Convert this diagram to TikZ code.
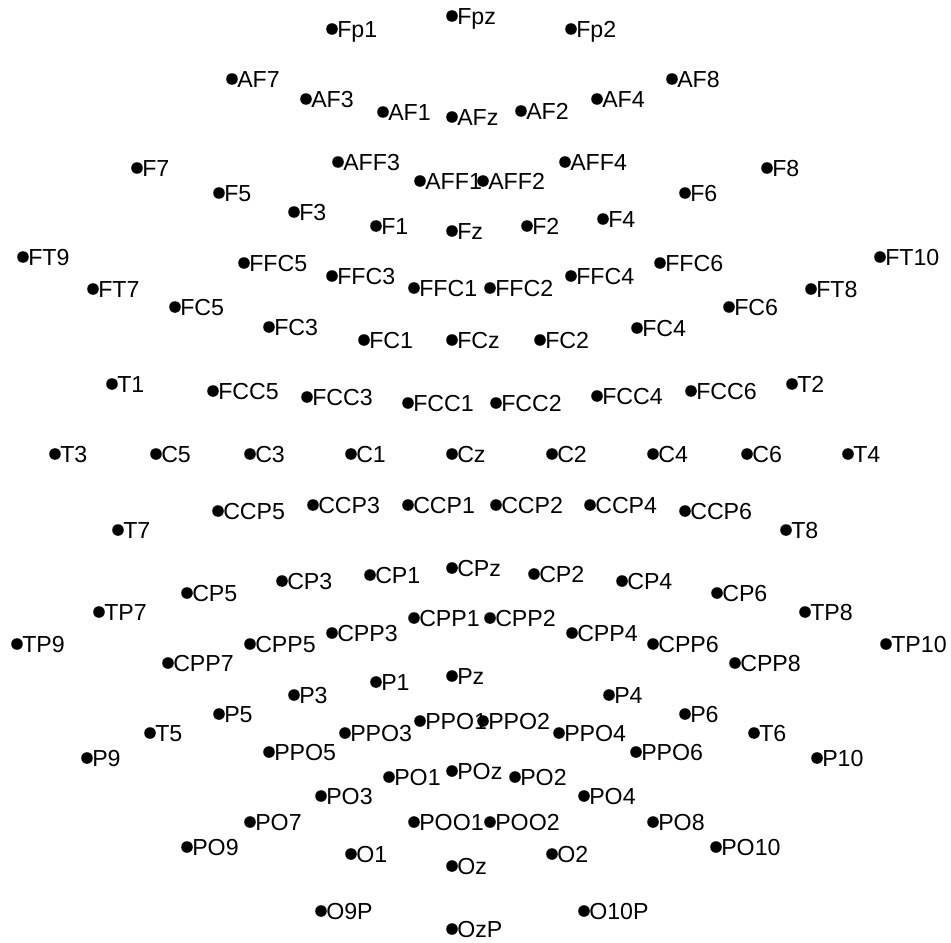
\documentclass[tikz,border=0pt]{standalone}
\usepackage{fontspec}
\setmainfont{Liberation Sans}

\tikzset{
  electrode/.style={circle, fill=black, inner sep=0pt, minimum size=0.232cm},
  elabel/.style={font=\fontsize{13.2}{15}\selectfont, inner sep=0pt, text height=9.45pt, text depth=0pt}
}

\begin{document}
\begin{tikzpicture}[x=0.02cm, y=-0.02cm, label distance=-0.025cm]
  \useasboundingbox (0,0) rectangle (951,943);
  % electrode positions, name/x/y
  \foreach \name/\ex/\ey in {
      Fp1/332/29, Fpz/452/16, Fp2/571/29,
      AF7/232/79, AF3/306/99, AF1/383/112, AFz/452/117, AF2/521/111, AF4/597/99, AF8/672/79,
      F7/137/168, AFF3/338/162, AFF1/420/181, AFF2/483/181, AFF4/565/162, F8/767/168,
      F5/219/193, F6/685/193, F3/294/212, F4/603/219, F1/376/226, Fz/452/231, F2/527/226,
      FT9/23/257, FT10/880/257, FFC5/244/263, FFC6/660/263, FFC3/332/276, FFC4/571/276,
      FFC1/414/288, FFC2/490/288, FT7/93/289, FT8/811/289, FC5/175/307, FC6/729/307,
      FC3/269/327, FC4/637/328, FC1/364/340, FCz/452/340, FC2/540/340,
      T1/112/384, T2/792/384, FCC5/213/391, FCC6/691/391, FCC3/307/397, FCC4/597/396,
      FCC1/408/403, FCC2/496/403,
      T3/55/454, C5/156/454, C3/250/454, C1/351/454, Cz/452/454, C2/552/454, C4/653/454, C6/747/454, T4/848/454,
      CCP5/218/511, CCP3/313/505, CCP1/408/505, CCP2/496/505, CCP4/590/505, CCP6/685/511,
      T7/118/530, T8/786/530,
      CP5/187/593, CP3/282/581, CP1/370/575, CPz/452/568, CP2/534/574, CP4/622/581, CP6/717/593,
      TP7/99/612, TP8/805/612, TP9/17/644, TP10/886/644,
      CPP5/250/644, CPP3/332/633, CPP1/414/618, CPP2/490/618, CPP4/572/633, CPP6/653/644,
      CPP7/168/663, CPP8/735/663,
      P3/294/695, P1/376/682, Pz/452/676, P4/609/695, P5/219/714, P6/685/714,
      T5/150/733, T6/754/733, PPO3/345/733, PPO1/420/721, PPO2/483/721, PPO4/559/733,
      PPO5/269/752, PPO6/636/752, P9/87/758, P10/817/758,
      PO1/389/777, POz/452/771, PO2/515/777, PO3/321/796, PO4/584/796,
      PO7/250/822, POO1/414/822, POO2/490/822, PO8/653/822, PO9/187/847, PO10/716/847,
      O1/351/854, Oz/452/866, O2/552/854,
      O9P/321/911, OzP/452/929, O10P/584/911}
    \node[electrode, label={[elabel]0:\name}] (\name) at (\ex,\ey) {};
\end{tikzpicture}
\end{document}
